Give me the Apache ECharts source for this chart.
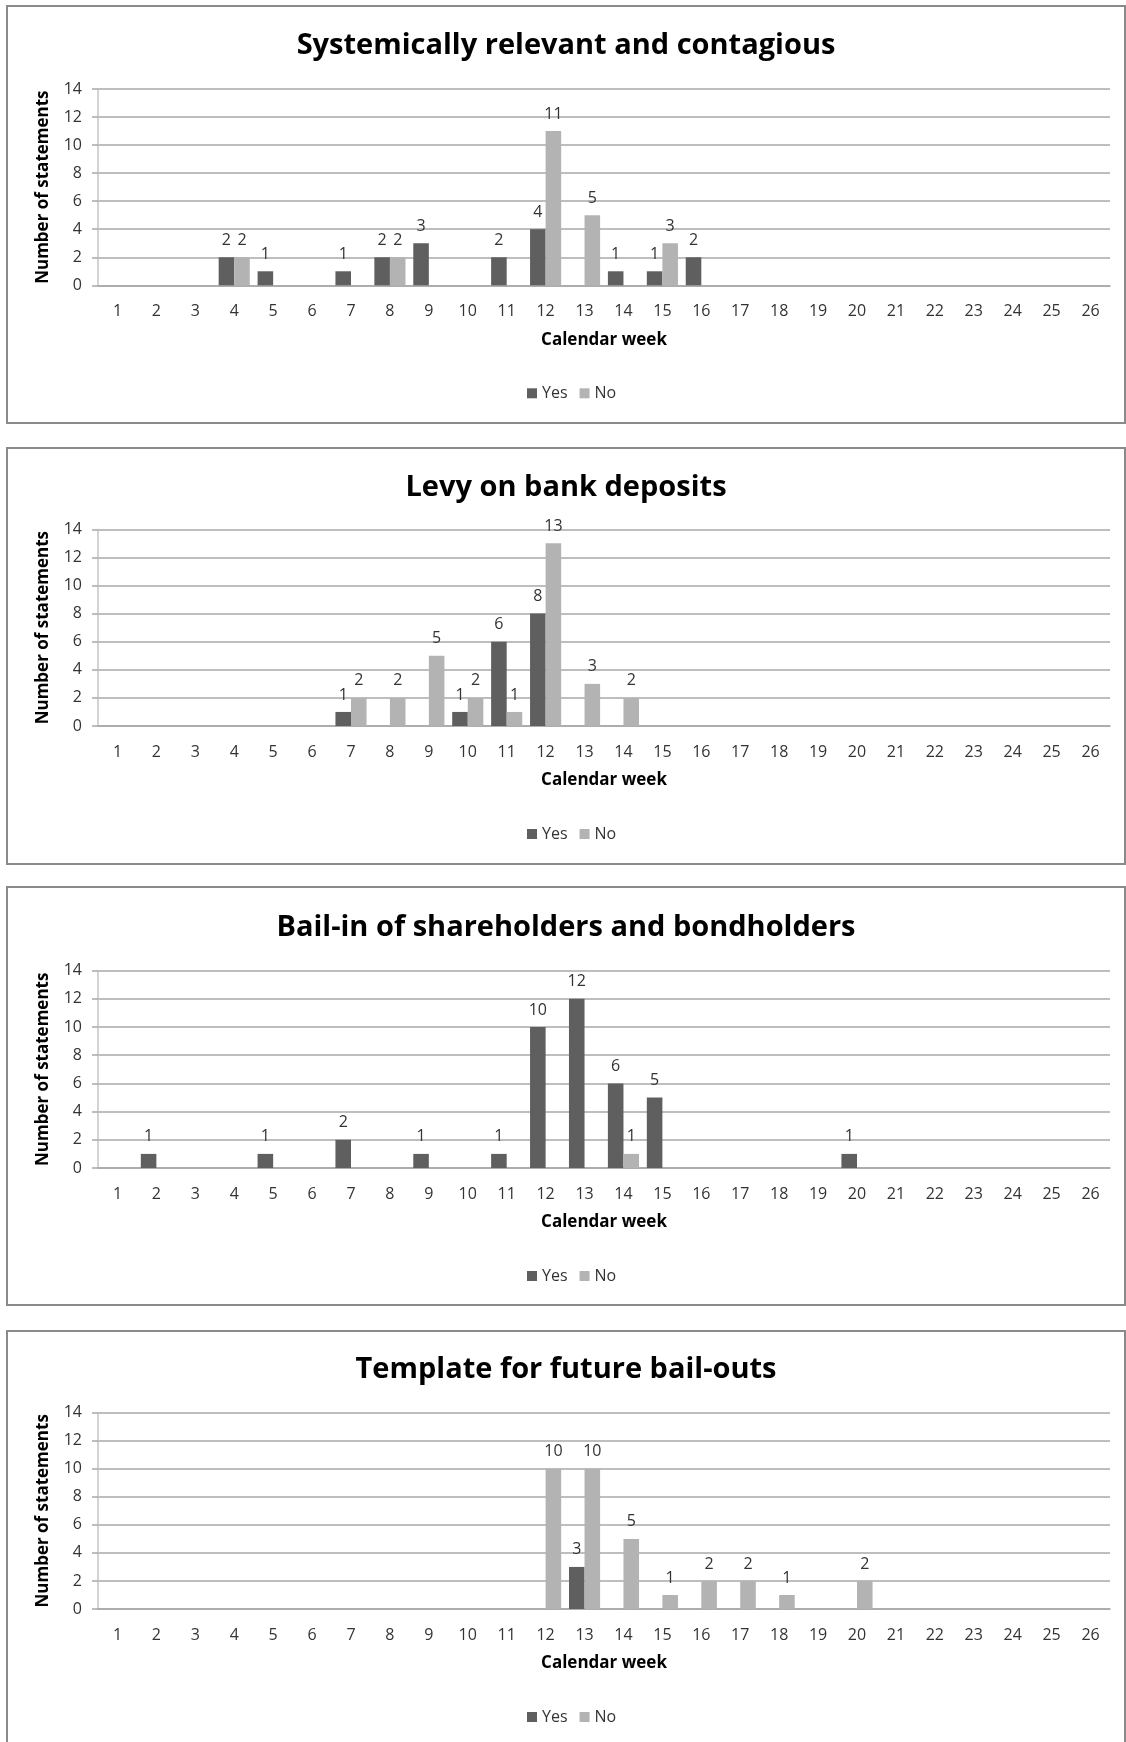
<!DOCTYPE html>
<html>
<head>
<meta charset="utf-8">
<script src="https://cdn.jsdelivr.net/npm/echarts@6/dist/echarts.min.js"></script>
<style>
  html, body { margin: 0; padding: 0; background: #ffffff; }
  #chart { width: 1126px; height: 1742px; }
</style>
</head>
<body>
<div id="chart"></div>
<script>
// Calendar weeks shown on every panel
const weeks = ['1','2','3','4','5','6','7','8','9','10','11','12','13','14','15','16','17','18','19','20','21','22','23','24','25','26'];
const yTicks = [0, 2, 4, 6, 8, 10, 12, 14];

// Panel titles
const panelTitles = [
  'Systemically relevant and contagious',
  'Levy on bank deposits',
  'Bail-in of shareholders and bondholders',
  'Template for future bail-outs'
];

// Number of statements per calendar week (weeks 1..26)
const systemicYes = [0,0,0,2,1,0,1,2,3,0,2,4,0,1,1,2,0,0,0,0,0,0,0,0,0,0];
const systemicNo  = [0,0,0,2,0,0,0,2,0,0,0,11,5,0,3,0,0,0,0,0,0,0,0,0,0,0];

const levyYes = [0,0,0,0,0,0,1,0,0,1,6,8,0,0,0,0,0,0,0,0,0,0,0,0,0,0];
const levyNo  = [0,0,0,0,0,0,2,2,5,2,1,13,3,2,0,0,0,0,0,0,0,0,0,0,0,0];

const bailInYes = [0,1,0,0,1,0,2,0,1,0,1,10,12,6,5,0,0,0,0,1,0,0,0,0,0,0];
const bailInNo  = [0,0,0,0,0,0,0,0,0,0,0,0,0,1,0,0,0,0,0,0,0,0,0,0,0,0];

const templateYes = [0,0,0,0,0,0,0,0,0,0,0,0,3,0,0,0,0,0,0,0,0,0,0,0,0,0];
const templateNo  = [0,0,0,0,0,0,0,0,0,0,0,10,10,5,1,2,2,1,0,2,0,0,0,0,0,0];

const seriesNames = ['Yes', 'No'];
const panelData = [
  [systemicYes, systemicNo],
  [levyYes, levyNo],
  [bailInYes, bailInNo],
  [templateYes, templateNo]
];

// Layout of the four stacked panels (pixels)
const frames = [
  { top: 6,    bottom: 423 },
  { top: 448,  bottom: 864 },
  { top: 887,  bottom: 1305 },
  { top: 1331, bottom: 1760 }
];
const plots = [
  { top: 89,     bottom: 285.3 },
  { top: 529.3,  bottom: 726 },
  { top: 970.6,  bottom: 1168 },
  { top: 1412.7, bottom: 1609 }
];
const titleCenters = [46, 487.5, 928, 1370];

const colors = ['#5f5f5f', '#b3b3b3'];
const baseFont = '"Open Sans", "DejaVu Sans", sans-serif';
const gridGray = '#a8a8a8';
const textGray = '#333333';

const chart = echarts.init(document.getElementById('chart'), null, { renderer: 'canvas' });

const option = {
  backgroundColor: '#ffffff',
  animation: false,
  color: colors,
  title: [],
  legend: [],
  grid: [],
  xAxis: [],
  yAxis: [],
  series: [],
  graphic: []
};

panelTitles.forEach(function (name, i) {
  const f = frames[i];
  const p = plots[i];

  // panel border
  option.graphic.push({
    type: 'rect',
    shape: { x: 7, y: f.top, width: 1118, height: f.bottom - f.top },
    style: { fill: 'none', stroke: '#8a8a8a', lineWidth: 2 },
    silent: true,
    z: 0
  });

  option.title.push({
    text: name,
    left: 566,
    textAlign: 'center',
    top: titleCenters[i] - 20,
    padding: 0,
    textStyle: { fontFamily: baseFont, fontWeight: 'bold', fontSize: 29, color: '#000000', lineHeight: 40 }
  });

  option.legend.push({
    data: seriesNames,
    left: 527,
    top: p.bottom + 100,
    padding: 0,
    itemWidth: 10,
    itemHeight: 10,
    itemGap: 12,
    icon: 'rect',
    textStyle: { fontFamily: baseFont, fontSize: 16, color: textGray },
    selectedMode: false
  });

  option.grid.push({
    left: 98,
    right: 16,
    top: p.top,
    height: p.bottom - p.top,
    containLabel: false
  });

  option.xAxis.push({
    type: 'category',
    gridIndex: i,
    data: weeks,
    boundaryGap: true,
    name: 'Calendar week',
    nameLocation: 'middle',
    nameGap: 46,
    nameTextStyle: { fontFamily: baseFont, fontWeight: 'bold', fontSize: 17, color: '#000000' },
    axisLine: { show: true, lineStyle: { color: gridGray, width: 1.5 } },
    axisTick: { show: false },
    axisLabel: { interval: 0, margin: 18, fontFamily: baseFont, fontSize: 16, color: textGray },
    splitLine: { show: false }
  });

  option.yAxis.push({
    type: 'value',
    gridIndex: i,
    min: yTicks[0],
    max: yTicks[yTicks.length - 1],
    interval: 2,
    name: 'Number of statements',
    nameLocation: 'middle',
    nameRotate: 90,
    nameGap: 46,
    nameTextStyle: { fontFamily: baseFont, fontWeight: 'bold', fontSize: 17, color: '#000000' },
    axisLine: { show: true, lineStyle: { color: '#c4c4c4', width: 1.5 } },
    axisTick: { show: true, length: 6, lineStyle: { color: gridGray, width: 1.5 } },
    axisLabel: { margin: 16, fontFamily: baseFont, fontSize: 16, color: textGray },
    splitLine: { show: true, lineStyle: { color: gridGray, width: 1.5 } }
  });

  panelData[i].forEach(function (values, s) {
    option.series.push({
      name: seriesNames[s],
      type: 'bar',
      xAxisIndex: i,
      yAxisIndex: i,
      data: values,
      barGap: '0%',
      barCategoryGap: '20%',
      itemStyle: { color: colors[s] },
      label: {
        show: true,
        position: 'top',
        distance: 9,
        fontFamily: baseFont,
        fontSize: 16,
        color: textGray,
        formatter: function (d) { return d.value === 0 ? '' : String(d.value); }
      }
    });
  });
});

chart.setOption(option);
</script>
</body>
</html>
